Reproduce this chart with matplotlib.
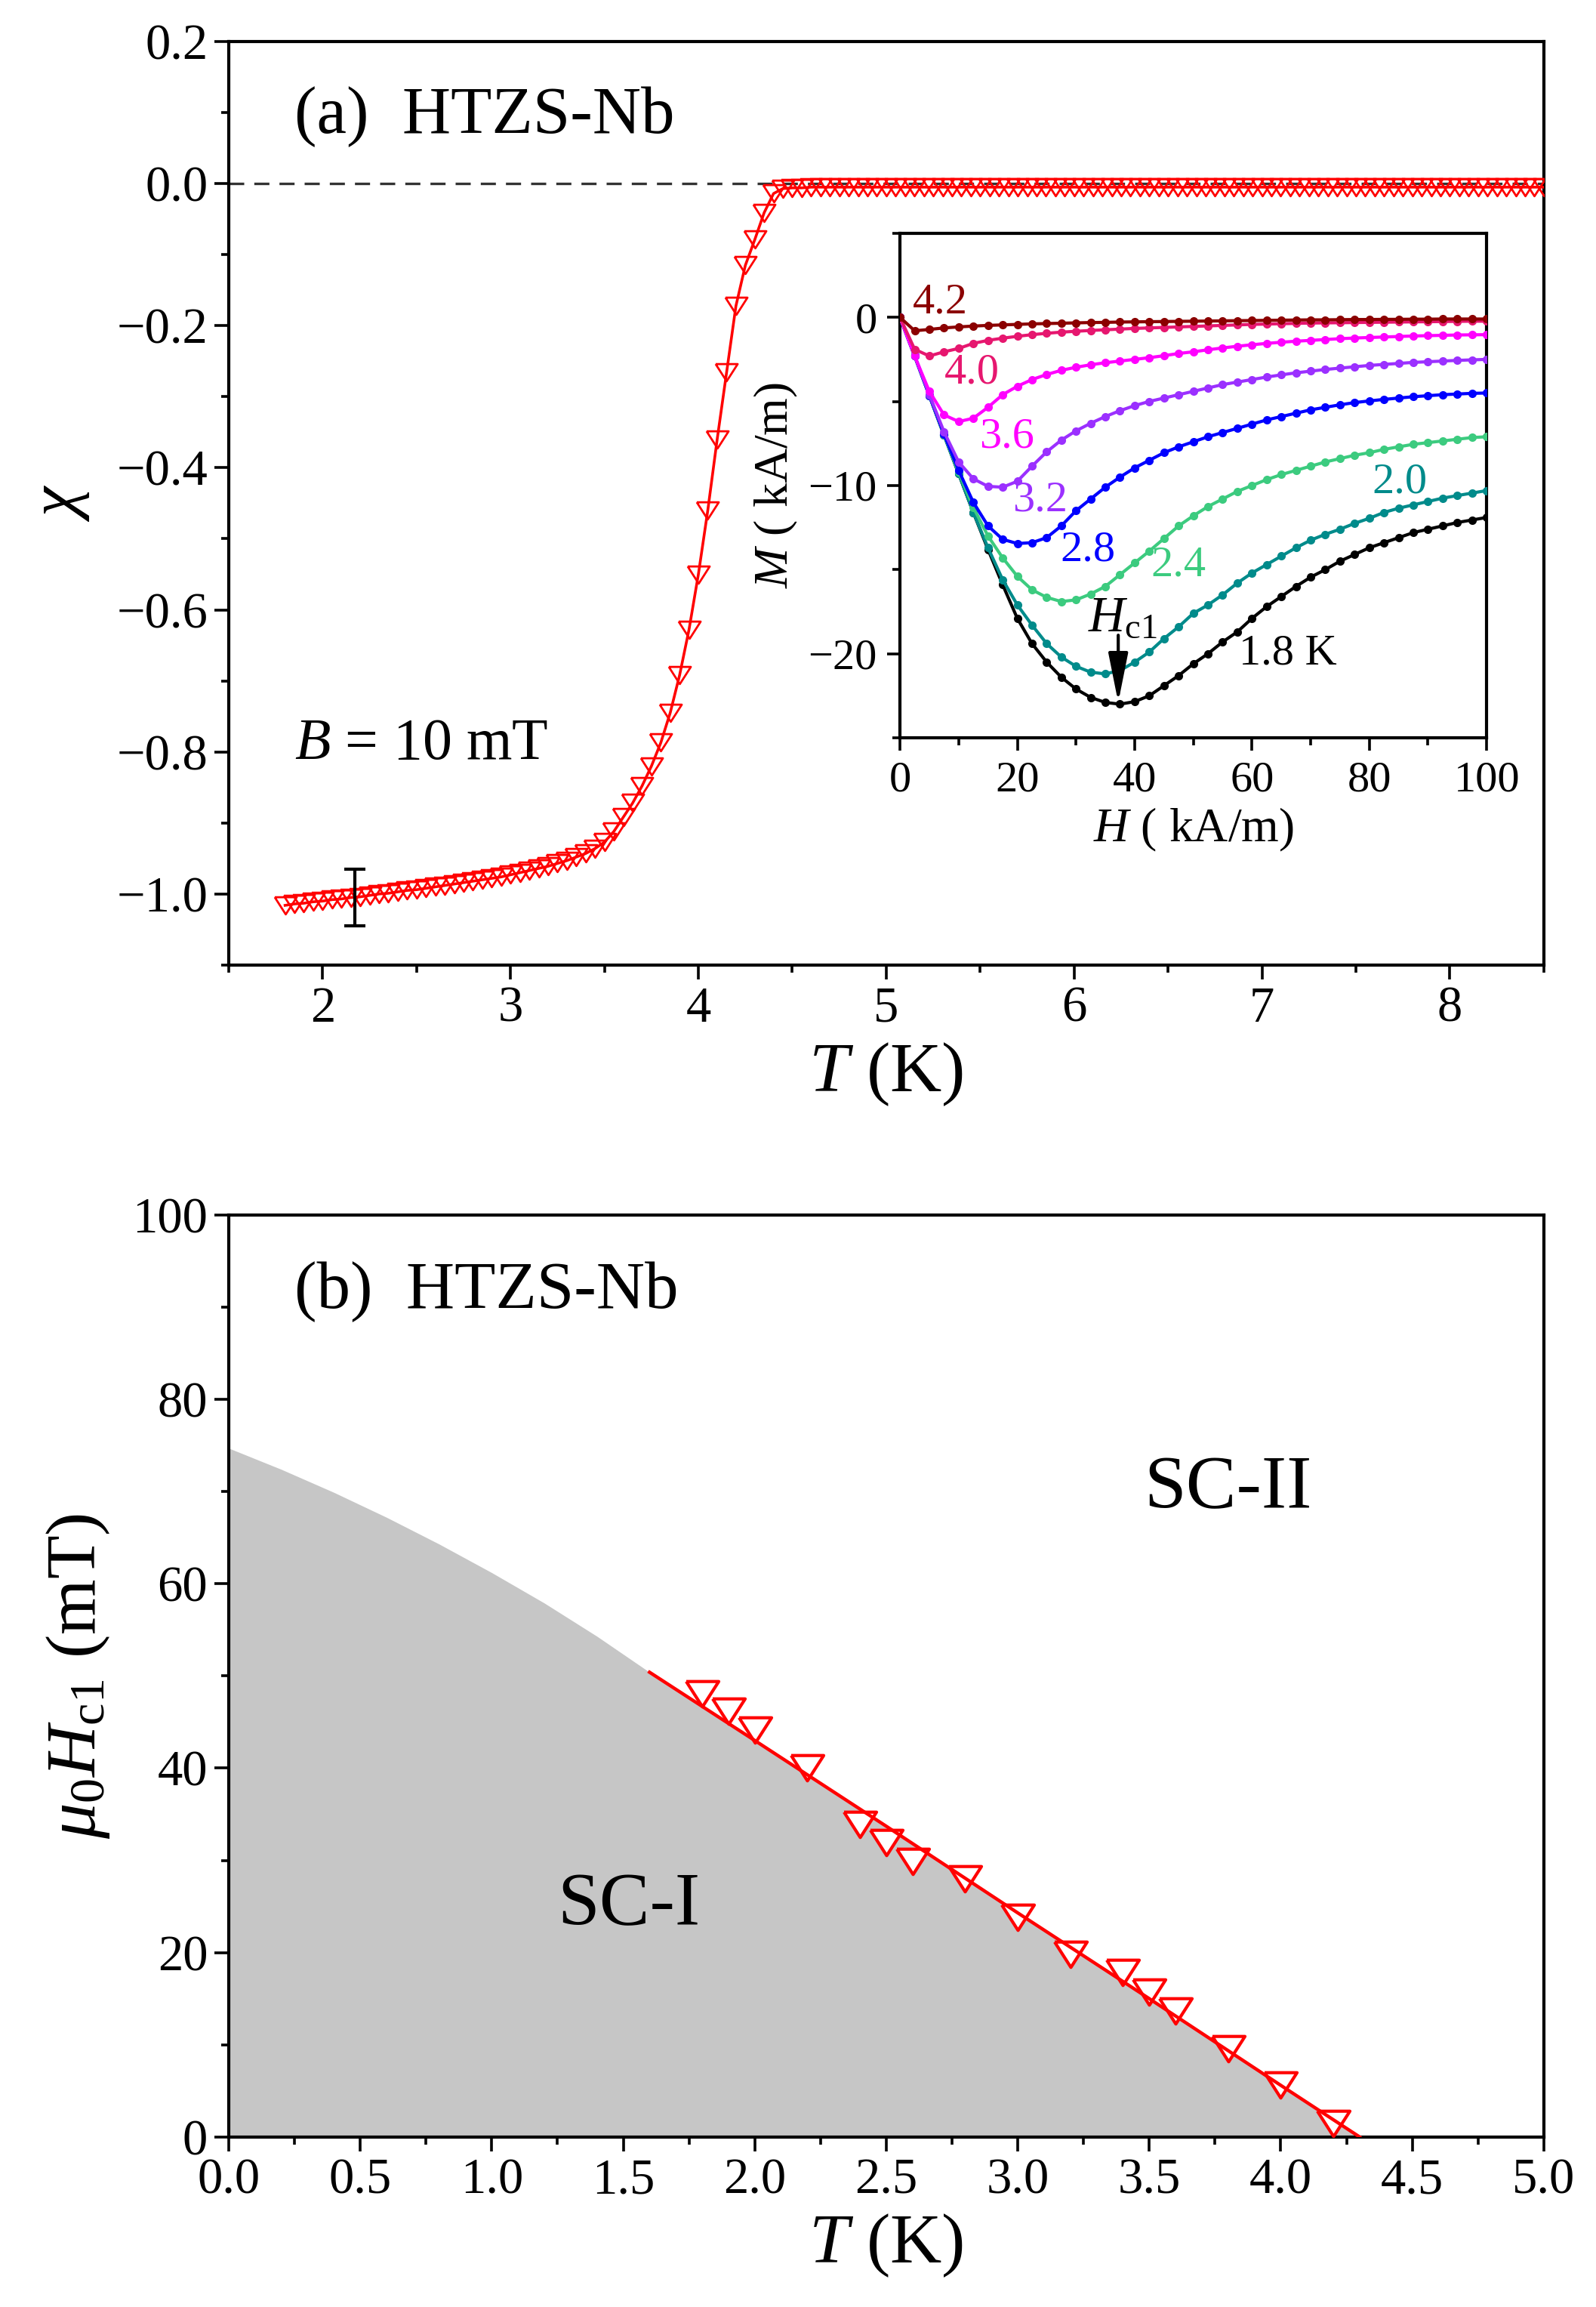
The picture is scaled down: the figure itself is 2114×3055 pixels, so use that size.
import numpy as np
import matplotlib
matplotlib.use('Agg')
import matplotlib.pyplot as plt
from matplotlib.ticker import MultipleLocator

plt.rcParams['font.family'] = ['Liberation Serif', 'DejaVu Serif']
plt.rcParams['mathtext.fontset'] = 'custom'
plt.rcParams['mathtext.rm'] = 'Liberation Serif'
plt.rcParams['mathtext.it'] = 'Liberation Serif:italic'
plt.rcParams['mathtext.bf'] = 'Liberation Serif:bold'
plt.rcParams['axes.linewidth'] = 1.5

# ---------------- panel (a): chi(T) ----------------
T_low = [1.80, 1.85, 1.90, 1.95, 2.00, 2.05, 2.10, 2.15, 2.20, 2.25,
         2.30, 2.35, 2.40, 2.45, 2.50, 2.55, 2.60, 2.65, 2.70, 2.75,
         2.80, 2.85, 2.90, 2.95, 3.00, 3.05, 3.10, 3.15, 3.20, 3.25,
         3.30, 3.35, 3.40, 3.45, 3.50, 3.55, 3.60, 3.65, 3.70, 3.75,
         3.80, 3.85, 3.90, 3.95, 4.00, 4.05, 4.10, 4.15, 4.20, 4.25,
         4.30, 4.35, 4.40, 4.45]
chi_low = [-1.016, -1.014, -1.013, -1.011, -1.010, -1.008, -1.007, -1.005, -1.004, -1.002,
           -1.000, -0.999, -0.997, -0.995, -0.994, -0.992, -0.990, -0.988, -0.986, -0.984,
           -0.982, -0.980, -0.978, -0.976, -0.973, -0.970, -0.967, -0.964, -0.961, -0.957,
           -0.953, -0.948, -0.943, -0.936, -0.927, -0.912, -0.892, -0.872, -0.848, -0.820,
           -0.787, -0.745, -0.692, -0.628, -0.550, -0.460, -0.360, -0.266, -0.172, -0.115,
           -0.079, -0.041, -0.014, -0.007]
T_high = [4.50, 4.55, 4.60, 4.65, 4.70, 4.75, 4.80, 4.85, 4.90, 4.95,
          5.00, 5.05, 5.10, 5.15, 5.20, 5.25, 5.30, 5.35, 5.40, 5.45,
          5.50, 5.55, 5.60, 5.65, 5.70, 5.75, 5.80, 5.85, 5.90, 5.95,
          6.00, 6.05, 6.10, 6.15, 6.20, 6.25, 6.30, 6.35, 6.40, 6.45,
          6.50, 6.55, 6.60, 6.65, 6.70, 6.75, 6.80, 6.85, 6.90, 6.95,
          7.00, 7.05, 7.10, 7.15, 7.20, 7.25, 7.30, 7.35, 7.40, 7.45,
          7.50, 7.55, 7.60, 7.65, 7.70, 7.75, 7.80, 7.85, 7.90, 7.95,
          8.00, 8.05, 8.10, 8.15, 8.20, 8.25, 8.30, 8.35, 8.40, 8.45,
          8.50]
chi_high = [-0.006, -0.006, -0.005, -0.005, -0.005, -0.005, -0.005, -0.005, -0.005, -0.005,
            -0.005, -0.005, -0.005, -0.005, -0.005, -0.005, -0.005, -0.005, -0.005, -0.005,
            -0.005, -0.005, -0.005, -0.005, -0.005, -0.005, -0.005, -0.005, -0.005, -0.005,
            -0.005, -0.005, -0.005, -0.005, -0.005, -0.005, -0.005, -0.005, -0.005, -0.005,
            -0.005, -0.005, -0.005, -0.005, -0.005, -0.005, -0.005, -0.005, -0.005, -0.005,
            -0.005, -0.005, -0.005, -0.005, -0.005, -0.005, -0.005, -0.005, -0.005, -0.005,
            -0.005, -0.005, -0.005, -0.005, -0.005, -0.005, -0.005, -0.005, -0.005, -0.005,
            -0.005, -0.005, -0.005, -0.005, -0.005, -0.005, -0.005, -0.005, -0.005, -0.005,
            -0.005]
err_T = [2.17]
err_chi = [-1.005]
err_size = [0.040]

# ---------------- inset: M(H) ----------------
H_in = [0, 2.5, 5, 7.5, 10, 12.5, 15, 17.5, 20, 22.5,
        25, 27.5, 30, 32.5, 35, 37.5, 40, 42.5, 45, 47.5,
        50, 52.5, 55, 57.5, 60, 62.5, 65, 67.5, 70, 72.5,
        75, 77.5, 80, 82.5, 85, 87.5, 90, 92.5, 95, 97.5,
        100]
M_18 = [0, -2.3, -4.65, -7.0, -9.3, -11.6, -13.8, -15.9, -17.9, -19.4,
        -20.5, -21.4, -22.1, -22.6, -22.9, -23.0, -22.85, -22.5, -21.9, -21.3,
        -20.6, -20.0, -19.3, -18.7, -17.9, -17.2, -16.6, -16.0, -15.45, -15.0,
        -14.5, -14.1, -13.7, -13.4, -13.1, -12.8, -12.6, -12.4, -12.2, -12.05,
        -11.9]
M_20 = [0, -2.3, -4.65, -7.0, -9.3, -11.6, -13.7, -15.6, -17.1, -18.3,
        -19.4, -20.2, -20.75, -21.1, -21.2, -21.0, -20.5, -19.9, -19.1, -18.4,
        -17.6, -17.1, -16.5, -15.8, -15.2, -14.7, -14.2, -13.7, -13.25, -12.9,
        -12.6, -12.25, -11.95, -11.6, -11.35, -11.15, -10.95, -10.75, -10.6, -10.45,
        -10.3]
M_24 = [0, -2.3, -4.65, -7.0, -9.2, -11.3, -13.0, -14.3, -15.4, -16.2,
        -16.65, -16.9, -16.8, -16.45, -16.0, -15.3, -14.6, -13.9, -13.15, -12.4,
        -11.8, -11.25, -10.8, -10.35, -10.0, -9.65, -9.35, -9.1, -8.85, -8.6,
        -8.4, -8.2, -8.05, -7.85, -7.7, -7.55, -7.45, -7.35, -7.25, -7.15,
        -7.1]
M_28 = [0, -2.3, -4.65, -6.95, -9.1, -11.0, -12.4, -13.2, -13.45, -13.4,
        -13.1, -12.4, -11.5, -10.8, -10.1, -9.5, -8.95, -8.5, -8.05, -7.7,
        -7.4, -7.1, -6.85, -6.6, -6.35, -6.1, -5.9, -5.7, -5.5, -5.35,
        -5.2, -5.07, -4.97, -4.88, -4.8, -4.72, -4.66, -4.6, -4.56, -4.52,
        -4.5]
M_32 = [0, -2.3, -4.6, -6.8, -8.6, -9.6, -10.05, -10.1, -9.75, -8.85,
        -8.0, -7.3, -6.75, -6.3, -5.9, -5.55, -5.25, -5.0, -4.8, -4.6,
        -4.4, -4.2, -4.0, -3.85, -3.7, -3.55, -3.42, -3.3, -3.2, -3.1,
        -3.02, -2.94, -2.86, -2.8, -2.74, -2.68, -2.64, -2.6, -2.56, -2.53,
        -2.5]
M_36 = [0, -2.3, -4.4, -5.8, -6.2, -6.0, -5.35, -4.6, -4.1, -3.7,
        -3.4, -3.15, -2.97, -2.82, -2.7, -2.6, -2.5, -2.4, -2.28, -2.15,
        -2.05, -1.93, -1.82, -1.72, -1.63, -1.55, -1.48, -1.42, -1.37, -1.32,
        -1.27, -1.23, -1.2, -1.17, -1.14, -1.11, -1.09, -1.07, -1.05, -1.04,
        -1.03]
M_40 = [0, -1.9, -2.3, -2.05, -1.85, -1.55, -1.37, -1.24, -1.13, -1.03,
        -0.95, -0.88, -0.83, -0.78, -0.74, -0.7, -0.66, -0.63, -0.6, -0.57,
        -0.54, -0.51, -0.48, -0.45, -0.42, -0.4, -0.38, -0.36, -0.34, -0.33,
        -0.32, -0.31, -0.3, -0.29, -0.28, -0.27, -0.26, -0.25, -0.24, -0.23,
        -0.23]
M_42 = [0, -0.8, -0.72, -0.63, -0.57, -0.52, -0.48, -0.45, -0.42, -0.39,
        -0.37, -0.35, -0.33, -0.31, -0.3, -0.28, -0.27, -0.26, -0.25, -0.24,
        -0.23, -0.22, -0.21, -0.2, -0.19, -0.18, -0.17, -0.16, -0.15, -0.15,
        -0.14, -0.13, -0.13, -0.12, -0.12, -0.11, -0.11, -0.1, -0.1, -0.1,
        -0.1]
curve_labels = ['1.8 K', '2.0', '2.4', '2.8', '3.2', '3.6', '4.0', '4.2']
curve_colors = ['#000000', '#008B8B', '#3CCB7F', '#0000FF', '#9B30FF', '#FF00FF', '#E6176F', '#8B0000']
label_H = [66.1, 85.2, 47.5, 32.0, 23.9, 18.2, 12.3, 6.9]
label_M = [-20.0, -9.8, -14.75, -13.85, -10.9, -7.1, -3.3, 0.9]
Hc1_arrow_H = 37.2
Hc1_arrow_M = [-18.9, -22.9]

# ---------------- panel (b): Hc1(T) ----------------
T_b = [1.8, 1.9, 2.0, 2.2, 2.4, 2.5, 2.6, 2.8, 3.0, 3.2, 3.4, 3.5, 3.6, 3.8, 4.0, 4.2]
Hc1_b = [48.1, 46.2, 44.1, 40.0, 33.9, 31.9, 29.9, 28.0, 23.8, 19.8, 17.8, 15.7, 13.7, 9.6, 5.6, 1.5]
fit_T = [1.6, 2.0, 2.5, 3.0, 3.5, 4.0, 4.3]
fit_H = [50.4, 43.0, 33.7, 24.3, 15.0, 5.6, 0.0]
shade_T = [0.0, 0.2, 0.4, 0.6, 0.8, 1.0, 1.2, 1.4, 1.6]
shade_H = [74.7, 72.4, 69.9, 67.2, 64.3, 61.2, 57.9, 54.3, 50.4]

# ---------------- figure ----------------
fig = plt.figure(figsize=(10.57, 15.275), dpi=200)
axa = fig.add_axes([0.1433, 0.5817, 0.824, 0.4003])
axb = fig.add_axes([0.1433, 0.0737, 0.824, 0.3997])
axi = fig.add_axes([0.5639, 0.6802, 0.3676, 0.2187])

tri = [(-1.0, 0.78), (1.0, 0.78), (0.0, -0.78), (-1.0, 0.78)]

def style(ax, lab=24, major=7, minor=3.5, pad=3):
    ax.tick_params(which='both', direction='out', top=False, right=False, width=1.3)
    ax.tick_params(which='major', length=major, labelsize=lab, pad=pad)
    ax.tick_params(which='minor', length=minor)

# panel a
T_a = T_low + T_high
chi_a = chi_low + chi_high
axa.axhline(0, color='#333333', ls=(0, (6, 4)), lw=1.2, zorder=1)
axa.plot(T_a, chi_a, color='red', lw=1.3, marker=tri, ms=10.5, mfc='none',
         mec='red', mew=1.0, zorder=3)
axa.errorbar(err_T, err_chi, yerr=err_size, fmt='none', ecolor='k', elinewidth=1.5,
             capsize=5, capthick=1.5, zorder=4)
axa.set_xlim(1.5, 8.5)
axa.set_ylim(-1.1, 0.2)
axa.xaxis.set_major_locator(MultipleLocator(1))
axa.xaxis.set_minor_locator(MultipleLocator(0.5))
axa.yaxis.set_major_locator(MultipleLocator(0.2))
axa.yaxis.set_minor_locator(MultipleLocator(0.1))
style(axa)
axa.set_xlabel(r'$T$ (K)', fontsize=34, labelpad=4)
axa.set_ylabel(r'$\chi$', fontsize=32, labelpad=12)
axa.text(1.85, 0.094, '(a)  HTZS-Nb', fontsize=32, ha='left', va='center')
axa.text(1.85, -0.79, r'$B$ = 10 mT', fontsize=28, ha='left', va='center')

# inset
for Hs, Ms, col in zip([H_in] * 8, [M_18, M_20, M_24, M_28, M_32, M_36, M_40, M_42], curve_colors):
    axi.plot(Hs, Ms, color=col, lw=1.5, marker='o', ms=3.0, mec=col, mfc=col, zorder=3)
for lab, col, hx, my in zip(curve_labels, curve_colors, label_H, label_M):
    axi.text(hx, my, lab, color=col, fontsize=21, ha='center', va='center', zorder=5)
axi.annotate('', xy=(Hc1_arrow_H, Hc1_arrow_M[1]), xytext=(Hc1_arrow_H, Hc1_arrow_M[0]),
             arrowprops=dict(arrowstyle='-|>,head_width=0.2,head_length=1.0', color='k',
                             lw=1.5, mutation_scale=20, shrinkA=0, shrinkB=0), zorder=6)
axi.text(37.9, -17.9, r'$H_{\rm c1}$', fontsize=24, ha='center', va='center', zorder=5)
axi.set_xlim(0, 100)
axi.set_ylim(-25, 5)
axi.xaxis.set_major_locator(MultipleLocator(20))
axi.xaxis.set_minor_locator(MultipleLocator(10))
axi.yaxis.set_major_locator(MultipleLocator(10))
axi.yaxis.set_minor_locator(MultipleLocator(5))
style(axi, lab=21, major=6, minor=3.5, pad=5)
axi.set_xlabel(r'$H$ ( kA/m)', fontsize=23, labelpad=3)
axi.set_ylabel(r'$M$ ( kA/m)', fontsize=23, labelpad=4)

# panel b
axb.fill_between(shade_T + fit_T[1:], shade_H + fit_H[1:], 0, color='#C6C6C6', lw=0, zorder=0)
axb.plot(T_b, Hc1_b, ls='none', marker=tri, ms=15.5, mfc='white', mec='red', mew=1.5, zorder=3)
axb.plot(fit_T, fit_H, color='red', lw=1.6, zorder=4)
axb.set_xlim(0, 5)
axb.set_ylim(0, 100)
axb.xaxis.set_major_locator(MultipleLocator(0.5))
axb.xaxis.set_minor_locator(MultipleLocator(0.25))
axb.yaxis.set_major_locator(MultipleLocator(20))
axb.yaxis.set_minor_locator(MultipleLocator(10))
axb.xaxis.set_major_formatter(matplotlib.ticker.FormatStrFormatter('%.1f'))
style(axb)
axb.set_xlabel(r'$T$ (K)', fontsize=34, labelpad=4)
axb.set_ylabel(r'$\mu_0H_{\rm c1}$ (mT)', fontsize=34, labelpad=10)
axb.text(0.25, 91.7, '(b)  HTZS-Nb', fontsize=32, ha='left', va='center')
axb.text(1.52, 25.0, 'SC-I', fontsize=36, ha='center', va='center')
axb.text(3.8, 70.2, 'SC-II', fontsize=36, ha='center', va='center')

fig.savefig('out.png', dpi=200)
